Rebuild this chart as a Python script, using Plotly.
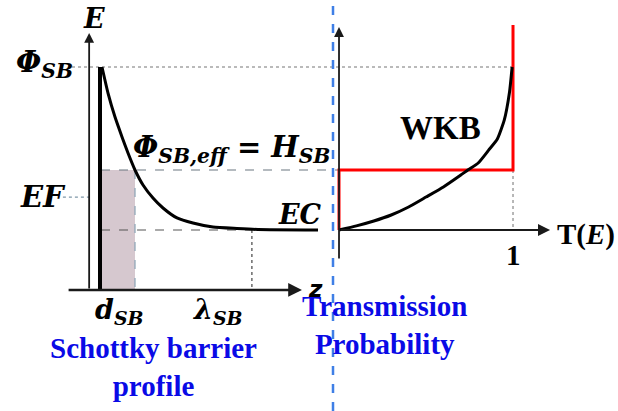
import plotly.graph_objects as go

# ---------------- data (diagram units) ----------------
# Left panel: Schottky barrier profile E(z); EC level = 0, Phi_SB = 1
barrier_z = [0.057, 0.229, 0.429, 0.629, 0.800, 1.000, 1.229, 1.514, 1.800, 2.200, 2.657, 3.229, 3.914, 4.514, 6.229]
barrier_E = [1.000, 0.840, 0.693, 0.571, 0.472, 0.368, 0.276, 0.196, 0.135, 0.074, 0.043, 0.018, 0.009, 0.003, 0.0]

# Right panel: WKB transmission probability T(E)
wkb_T = [0.0, 0.10, 0.20, 0.30, 0.40, 0.50, 0.60, 0.70, 0.74, 0.80, 0.86, 0.91, 0.95, 0.98, 0.995]
wkb_E = [0.0, 0.025, 0.055, 0.092, 0.141, 0.202, 0.264, 0.337, 0.368, 0.411, 0.490, 0.558, 0.675, 0.847, 1.0]

# Right panel: step transmission (red)
step_T = [0.0, 0.0, 1.0, 1.0]
step_E = [0.0, 0.368, 0.368, 1.258]

# Energy levels and distances
E_PHI_SB = 1.0
E_EFF = 0.368
E_F = 0.202
E_C = 0.0
D_SB = 1.0
LAMBDA_SB = 4.34
Z_AXIS_E = -0.368

fig = go.Figure()

def seg(x, y, color, width, dash="solid", xaxis="x"):
    fig.add_trace(go.Scatter(x=x, y=y, mode="lines", xaxis=xaxis, yaxis="y",
                             line=dict(color=color, width=width, dash=dash),
                             hoverinfo="skip", showlegend=False))

# shaded tunnelling region
fig.add_trace(go.Scatter(x=[0.03, D_SB, D_SB, 0.03, 0.03],
                         y=[Z_AXIS_E, Z_AXIS_E, E_EFF, E_EFF, Z_AXIS_E],
                         mode="lines", fill="toself", fillcolor="rgb(214,200,207)",
                         line=dict(width=0), hoverinfo="skip", showlegend=False))

# guide lines (left panel coordinates)
seg([-0.8, 11.8], [E_PHI_SB, E_PHI_SB], "#777", 1.2, "dot")
seg([0.03, 6.83], [E_EFF, E_EFF], "#6b7680", 1.2, "dash")
seg([-1.06, -0.31], [E_F, E_F], "#7f97a8", 1.2, "dot")
seg([0.03, LAMBDA_SB], [E_C, E_C], "#555", 1.2, "dash")
seg([D_SB, D_SB], [E_EFF, Z_AXIS_E], "#8aa3b5", 1.2, "dash")
seg([LAMBDA_SB, LAMBDA_SB], [E_C, Z_AXIS_E], "#444", 1.2, "dot")
# right panel guide at T=1
seg([1.0, 1.0], [E_EFF, E_C], "#888", 1.2, "dot", xaxis="x2")

# barrier wall
seg([0.0, 0.0], [Z_AXIS_E, E_PHI_SB], "#000", 4)
# barrier curve
fig.add_trace(go.Scatter(x=barrier_z, y=barrier_E, mode="lines",
                         line=dict(color="#000", width=3, shape="spline", smoothing=0.5),
                         hoverinfo="skip", showlegend=False))

# right panel curves
fig.add_trace(go.Scatter(x=step_T, y=step_E, mode="lines", xaxis="x2", yaxis="y",
                         line=dict(color="#ff0000", width=3),
                         hoverinfo="skip", showlegend=False))
fig.add_trace(go.Scatter(x=wkb_T, y=wkb_E, mode="lines", xaxis="x2", yaxis="y",
                         line=dict(color="#000", width=3, shape="spline", smoothing=0.5),
                         hoverinfo="skip", showlegend=False))

ann = []
def arrow(x, y, ax, ay, xref="x", width=2):
    ann.append(dict(x=x, y=y, ax=ax, ay=ay, xref=xref, yref="y", axref=xref, ayref="y",
                    showarrow=True, arrowhead=2, arrowsize=1.1, arrowwidth=width,
                    arrowcolor="#1a1a1a", text=""))

arrow(-0.31, 1.209, -0.31, Z_AXIS_E, width=1.8)
arrow(5.77, Z_AXIS_E, -0.94, Z_AXIS_E, width=2.5)
arrow(0.0, 1.245, 0.0, -0.184, xref="x2", width=1.8)
arrow(1.213, E_C, 0.0, E_C, xref="x2", width=2.2)

MATH = "DejaVu Serif"
SERIF = "Liberation Serif"
def text(x, y, s, size, family=MATH, color="#000", xref="x", xanchor="center", yanchor="middle"):
    ann.append(dict(x=x, y=y, xref=xref, yref="y", text=s, showarrow=False,
                    xanchor=xanchor, yanchor=yanchor,
                    font=dict(family=family, size=size, color=color)))

text(-0.17, 1.30, "<b><i>E</i></b>", 27)
text(-0.71, 1.02, "<b><i>Φ</i></b><sub><b><i>SB</i></b></sub>", 29, xanchor="right")
text(-0.91, E_F, "<b><i>EF</i></b>", 29, xanchor="right")
text(3.77, 0.50, "<b><i>Φ</i></b><sub><b><i>SB,eff</i></b></sub><b> = </b><b><i>H</i></b><sub><b><i>SB</i></b></sub>", 29)
text(5.71, 0.098, "<b><i>EC</i></b>", 27)
text(6.16, -0.36, "<b><i>z</i></b>", 23, family="DejaVu Sans")
text(0.57, -0.50, "<b><i>d</i></b><sub><b><i>SB</i></b></sub>", 27)
text(3.37, -0.50, "<b><i>λ</i></b><sub><b><i>SB</i></b></sub>", 27)
text(1.54, -0.84, "<b>Schottky barrier<br>profile</b>", 29, family=SERIF, color="#0a0ae6")
text(0.259, -0.58, "<b>Transmission<br>Probability</b>", 29, family=SERIF, color="#0a0ae6", xref="x2")
text(0.586, 0.626, "<b>WKB</b>", 33, family=SERIF, xref="x2")
text(1.241, -0.03, "<b>T(<i>E</i>)</b>", 29, family=SERIF, xref="x2", xanchor="left")
text(1.0, -0.153, "<b>1</b>", 29, family=SERIF, xref="x2")

fig.update_layout(
    width=618, height=411, autosize=False,
    margin=dict(l=0, r=0, t=0, b=0),
    paper_bgcolor="white", plot_bgcolor="white",
    xaxis=dict(range=[-2.857, 14.8], visible=False, domain=[0, 1]),
    xaxis2=dict(range=[-1.9483, 1.6034], visible=False, overlaying="x", domain=[0, 1]),
    yaxis=dict(range=[-1.1104, 1.4110], visible=False),
    annotations=ann,
    shapes=[dict(type="line", xref="paper", yref="paper", x0=333/618, x1=333/618, y0=0, y1=1,
                 line=dict(color="#3f7fe6", width=2.5, dash="dash"))],
    showlegend=False,
)

fig.write_html("out.html")
